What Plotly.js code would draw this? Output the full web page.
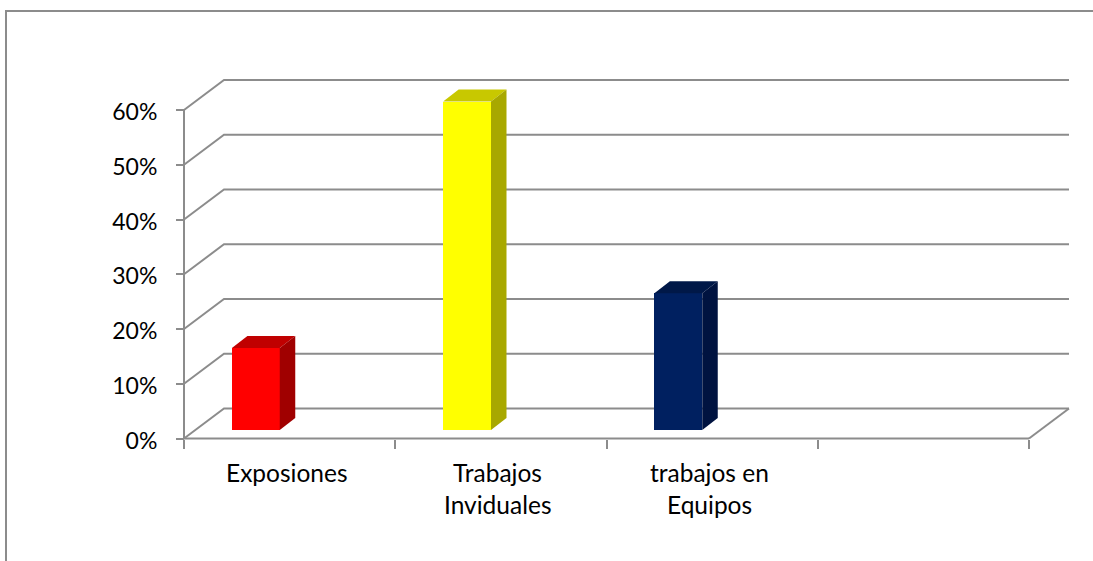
<!DOCTYPE html>
<html>
<head>
<meta charset="utf-8">
<script src="https://cdn.plot.ly/plotly-3.0.1.min.js"></script>
<style>html,body{margin:0;padding:0;background:#fff;overflow:hidden}</style>
</head>
<body>
<div id="chart" style="width:1093px;height:561px"></div>
<script>
const categoryLines = [["Exposiones"], ["Trabajos", "Inviduales"], ["trabajos en", "Equipos"]];
const categories = ["Exposiones", "Trabajos Inviduales", "trabajos en Equipos"];
const values = [0.15, 0.60, 0.25];
const frontColors = ["#ff0000", "#ffff00", "#002060"];
const topColors = ["#c00000", "#c8c800", "#001848"];
const sideColors = ["#a00000", "#a8a800", "#001340"];
const yTicks = [0, 0.1, 0.2, 0.3, 0.4, 0.5, 0.6];
const xTicks = [0, 1, 2, 3, 4];

const GRAY = "#8c8c8c";
const TICK_FONT = {family: "Lato, Carlito, sans-serif", size: 23, color: "#000"};
const CAT_FONT = {family: "Lato, Carlito, sans-serif", size: 24.5, color: "#000"};

// scale of the axes in the picture
const pxPerCat = 211.25, pxPerUnit = 547.5, x0px = 184, y0px = 438.5;
// plot box, larger than the axes so that the chart's depth fits inside it
const boxL = 174, boxR = 1074, boxT = 70, boxB = 448;
const xRange = [(boxL - x0px) / pxPerCat, (boxR - x0px) / pxPerCat];
const yRange = [(y0px - boxB) / pxPerUnit, (y0px - boxT) / pxPerUnit];
const labelShift = 2 / pxPerUnit;   // tick labels sit slightly below their ticks

const wallDx = 40 / pxPerCat, wallDy = 30 / pxPerUnit;      // depth of the chart box
const barDx = 15.5 / pxPerCat, barDy = 12 / pxPerUnit;      // depth of a bar
const barBase = 0.0155, barWidth = 0.2265, barOffset = 0.34;

const grayLine = {color: GRAY, width: 2, simplify: false};
const lineTrace = (x, y) => ({
  type: "scatter", mode: "lines", hoverinfo: "skip", showlegend: false, x, y, line: grayLine
});
const xEnd = xTicks[xTicks.length - 1], yEnd = yTicks[yTicks.length - 1];

const traces = [];
// back wall gridlines, floor and axis lines
yTicks.forEach(v => traces.push(lineTrace([0, wallDx, xEnd + wallDx], [v, v + wallDy, v + wallDy])));
traces.push(lineTrace([xEnd, xEnd + wallDx], [0, wallDy]));
traces.push(lineTrace([0, xEnd], [0, 0]));
traces.push(lineTrace([0, 0], [0, yEnd]));
// bar fronts
traces.push({
  type: "bar", xaxis: "x2", yaxis: "y2", cliponaxis: false, showlegend: false,
  x: values.map((_, i) => i + barOffset), y: values, base: values.map(() => barBase),
  width: barWidth, text: categories, hoverinfo: "text+y", textposition: "none",
  marker: {color: frontColors, line: {width: 0}}
});
// bar tops and sides
values.forEach((v, i) => {
  const l = i + barOffset - barWidth / 2, r = l + barWidth, t = barBase + v, b = barBase;
  traces.push({
    type: "scatter", mode: "lines", fill: "toself", xaxis: "x2", yaxis: "y2",
    hoverinfo: "skip", showlegend: false, fillcolor: topColors[i], line: {width: 0},
    x: [l, r, r + barDx, l + barDx, l], y: [t, t, t + barDy, t + barDy, t]
  });
  traces.push({
    type: "scatter", mode: "lines", fill: "toself", xaxis: "x2", yaxis: "y2",
    hoverinfo: "skip", showlegend: false, fillcolor: sideColors[i], line: {width: 0},
    x: [r, r + barDx, r + barDx, r, r], y: [t, t + barDy, b + barDy, b, t]
  });
});
// empty trace that carries the tick-label axis
traces.push({type: "scatter", mode: "lines", xaxis: "x", yaxis: "y3", x: [], y: [], hoverinfo: "skip", showlegend: false});

const annotations = [];
categoryLines.forEach((lines, i) => lines.forEach((text, j) => annotations.push({
  text, x: i + 0.486, y: 0, xref: "x", yref: "y", showarrow: false,
  xanchor: "center", yanchor: "middle", yshift: -34 - 32 * j, font: CAT_FONT
})));

const toPaperX = px => (px - boxL) / (boxR - boxL);
const toPaperY = py => (boxB - py) / (boxB - boxT);

const layout = {
  width: 1093, height: 561, autosize: false,
  margin: {l: boxL, r: 1093 - boxR, t: boxT, b: 561 - boxB, pad: 0},
  paper_bgcolor: "#fff", plot_bgcolor: "rgba(0,0,0,0)",
  showlegend: false, bargap: 0, font: TICK_FONT,
  xaxis: {
    range: xRange, tickmode: "array", tickvals: xTicks, showticklabels: false,
    anchor: "free", position: toPaperY(y0px),
    ticks: "outside", ticklen: 9, tickwidth: 2, tickcolor: GRAY,
    showline: false, showgrid: false, zeroline: false
  },
  yaxis: {
    range: yRange, tickmode: "array", tickvals: yTicks, showticklabels: false,
    anchor: "free", position: toPaperX(x0px),
    ticks: "outside", ticklen: 8, tickwidth: 2, tickcolor: GRAY,
    showline: false, showgrid: false, zeroline: false
  },
  yaxis3: {
    range: [yRange[0] + labelShift, yRange[1] + labelShift],
    overlaying: "y", anchor: "free", position: toPaperX(x0px), side: "left",
    tickmode: "array", tickvals: yTicks, tickformat: ".0%", tickfont: TICK_FONT,
    ticks: "outside", ticklen: 8, tickwidth: 2, tickcolor: "rgba(0,0,0,0)", ticklabelstandoff: 14,
    showline: false, showgrid: false, zeroline: false
  },
  xaxis2: {range: xRange, overlaying: "x", visible: false, anchor: "y2"},
  yaxis2: {range: yRange, overlaying: "y", visible: false, anchor: "x2"},
  shapes: [{
    type: "path", xref: "paper", yref: "paper", layer: "below",
    path: `M ${toPaperX(6)} ${toPaperY(561)} L ${toPaperX(6)} ${toPaperY(11)} L ${toPaperX(1093)} ${toPaperY(11)}`,
    line: {color: GRAY, width: 2}
  }],
  annotations
};
Plotly.newPlot("chart", traces, layout, {displayModeBar: false, responsive: false});
</script>
</body>
</html>
